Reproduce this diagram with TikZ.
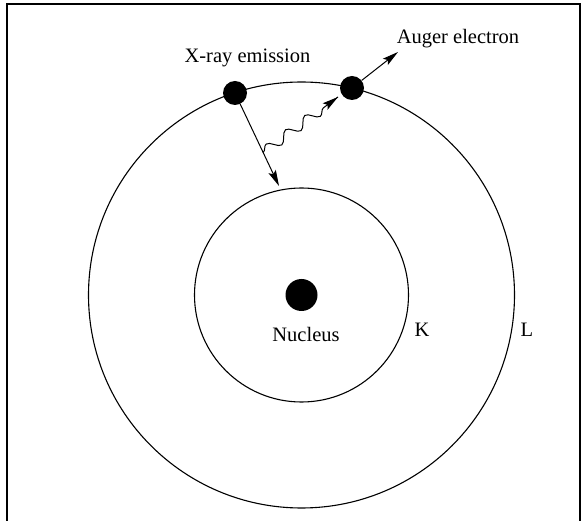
\documentclass[tikz,border=0pt]{standalone}
\usepackage{fontspec}
\setmainfont{Liberation Serif}
\usetikzlibrary{arrows.meta,decorations.pathmorphing,calc}
\begin{document}
\begin{tikzpicture}[x=1pt,y=-1pt,
  orbit/.style={draw, circle, line width=1.1pt, inner sep=0pt, outer sep=0pt},
  electron/.style={circle, fill=black, minimum size=24pt, inner sep=0pt},
  lbl/.style={font=\fontsize{20.5}{24}\selectfont, inner sep=0pt},
  arr/.style={-{Stealth[length=16pt,width=8pt,inset=3pt]}, line width=1pt},
  photon/.style={line width=1pt, decorate, decoration={snake, amplitude=5pt, segment length=24pt, post length=12pt}},
  frame/.style={line width=2pt}]
\useasboundingbox (0,0) rectangle (587,521);
\draw[frame] (7,521) -- (7,4) -- (580,4) -- (580,521);
\coordinate (C) at (301.5,295);
\node[orbit, minimum size=426pt] (Lshell) at (C) {};
\node[orbit, minimum size=214pt] (Kshell) at (C) {};
\node[electron, minimum size=32pt] (nuc) at (C) {};
\node[electron] (xe) at (235,93) {};
\node[electron] (ae) at (352,88) {};
\coordinate (xt) at (279,186);
\coordinate (at) at (398,52);
\draw[arr] (xe) -- (xt);
\coordinate (ps) at ($(235,93)!0.64!(xt)$);
\coordinate (pt) at (338,97);
\draw[photon] (ps) -- (pt);
\draw[arr] ($(ps)!0.85!(pt)$) -- (pt);
\draw[arr] (ae) -- (at);
\node[lbl] (xlab) at (247.5,58) {X-ray emission};
\node[lbl] (alab) at (458,39) {Auger electron};
\node[lbl] (nlab) at (306,334) {Nucleus};
\node[lbl] (klab) at (422,330) {K};
\node[lbl] (llab) at (527,330) {L};
\end{tikzpicture}
\end{document}
